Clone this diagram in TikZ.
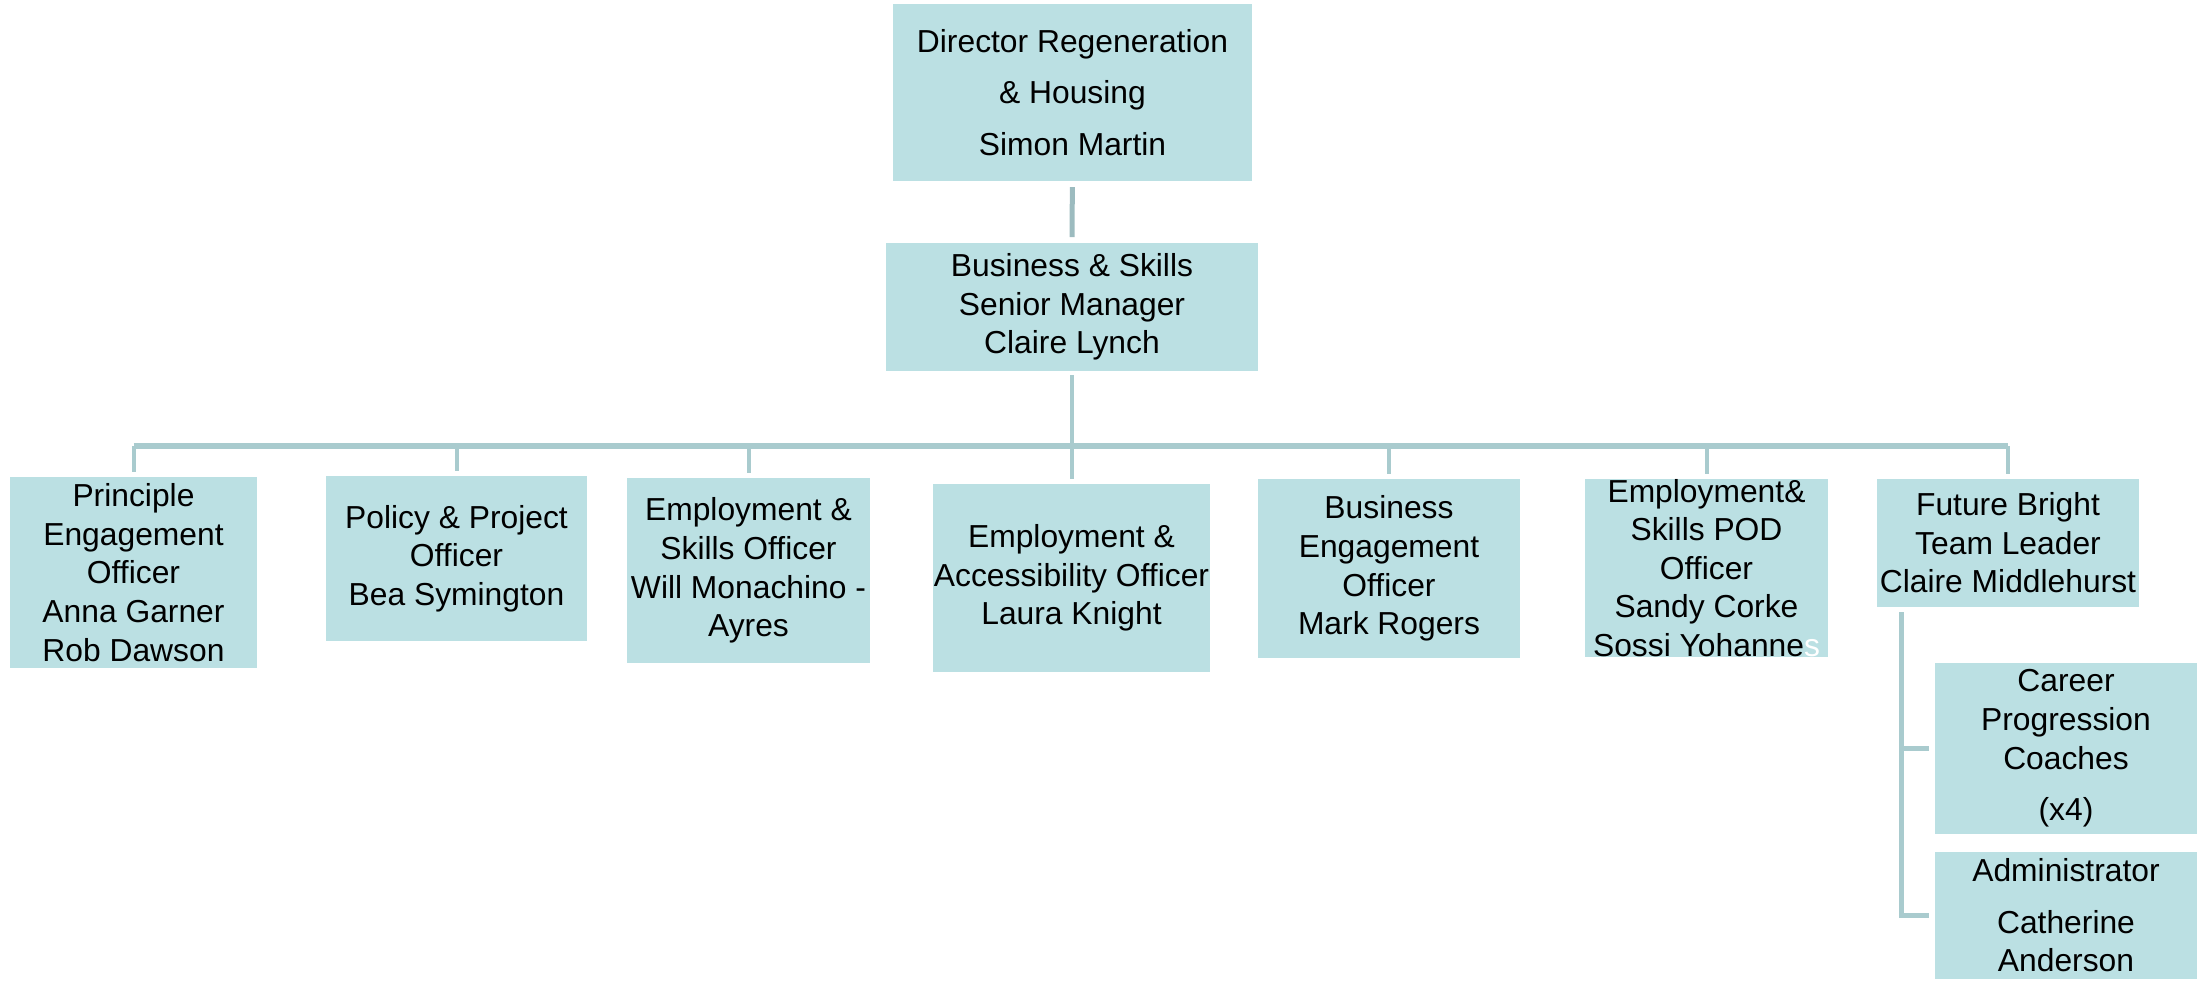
\documentclass[tikz,border=0pt]{standalone}
\usepackage{fontspec}
\setmainfont{Liberation Sans}
\usepackage{tikz}
\usetikzlibrary{positioning}

\begin{document}
\begin{tikzpicture}[x=0.5pt,y=-0.5pt,
	box node/.style={rectangle,fill=boxfill,inner sep=0pt,outer sep=0pt,align=center,
		font=\fontsize{15.9}{19.3}\selectfont},
	org line/.style={draw=linecol,line width=2pt},
	bar line/.style={draw=linecol,line width=3pt}]
	
	\definecolor{boxfill}{RGB}{187,224,227}
	\definecolor{linecol}{RGB}{169,203,206}
	\definecolor{topcol}{RGB}{156,187,191}
	
	\useasboundingbox (0,0) rectangle (2197,993);
	
	\node[box node,minimum width=179.5pt,minimum height=88.5pt] (dir) at (1072.5,92.5)
		{Director Regeneration\\[6.5pt] \& Housing\\[6.5pt] Simon Martin};
	\node[box node,minimum width=186pt,minimum height=64pt] (mgr) at (1072,307)
		{Business \& Skills\\ Senior Manager\\ Claire Lynch};
	
	\node[box node,minimum width=123.5pt,minimum height=95.5pt] (peo) at (133.5,572.5)
		{Principle\\ Engagement\\ Officer\\ Anna Garner\\ Rob Dawson};
	\node[box node,minimum width=130.5pt,minimum height=82.5pt] (ppo) at (456.5,558.5)
		{Policy \& Project\\ Officer\\ Bea Symington};
	\node[box node,minimum width=121.5pt,minimum height=92.5pt] (eso) at (748.5,570.5)
		{Employment \&\\ Skills Officer\\ Will Monachino -\\ Ayres};
	\node[box node,minimum width=138.5pt,minimum height=94pt] (eao) at (1071.5,578)
		{Employment \&\\ Accessibility Officer\\ Laura Knight};
	\node[box node,minimum width=131pt,minimum height=89.5pt] (beo) at (1389,568.5)
		{Business\\ Engagement\\ Officer\\ Mark Rogers};
	\node[box node,minimum width=121.5pt,minimum height=89pt] (pod) at (1706.5,568)
		{Employment\&\\ Skills POD\\ Officer\\ Sandy Corke\\ Sossi Yohanne\textcolor{white}{s}};
	\node[box node,minimum width=131pt,minimum height=64pt] (ftl) at (2008,543)
		{Future Bright\\ Team Leader\\ Claire Middlehurst};
	
	\node[box node,minimum width=131pt,minimum height=85.5pt] (cpc) at (2066,748.5)
		{Career\\ Progression\\ Coaches\\[6.5pt] (x4)};
	\node[box node,minimum width=131pt,minimum height=63.5pt] (adm) at (2066,915.5)
		{Administrator\\[6.5pt] Catherine\\ Anderson};
	
	% director to manager
	\draw[draw=topcol,line width=2.5pt,shorten <=3pt,shorten >=3pt] (dir) -- (mgr);
	
	% manager down to the bar
	\coordinate (bar) at (1072,446);
	\draw[org line,shorten <=2pt] (mgr.south) -- (bar);
	\draw[bar line] (peo.north |- bar) -- (ftl.north |- bar);
	
	% bar to each officer
	\draw[org line,shorten >=2.5pt] (peo.north |- bar) -- (peo.north);
	\draw[org line,shorten >=2.5pt] (ppo.north |- bar) -- (ppo.north);
	\draw[org line,shorten >=2.5pt] (eso.north |- bar) -- (eso.north);
	\draw[org line,shorten >=2.5pt] (eao.north |- bar) -- (eao.north);
	\draw[org line,shorten >=2.5pt] (beo.north |- bar) -- (beo.north);
	\draw[org line,shorten >=2.5pt] (pod.north |- bar) -- (pod.north);
	\draw[org line,shorten >=2.5pt] (ftl.north |- bar) -- (ftl.north);
	
	% team leader to its team
	\coordinate (trunk) at (1901,612);
	\draw[org line,line width=2.5pt,shorten >=3pt] (trunk) |- (cpc.west);
	\draw[org line,line width=2.5pt,shorten >=3pt] (trunk) |- (adm.west);
\end{tikzpicture}
\end{document}
